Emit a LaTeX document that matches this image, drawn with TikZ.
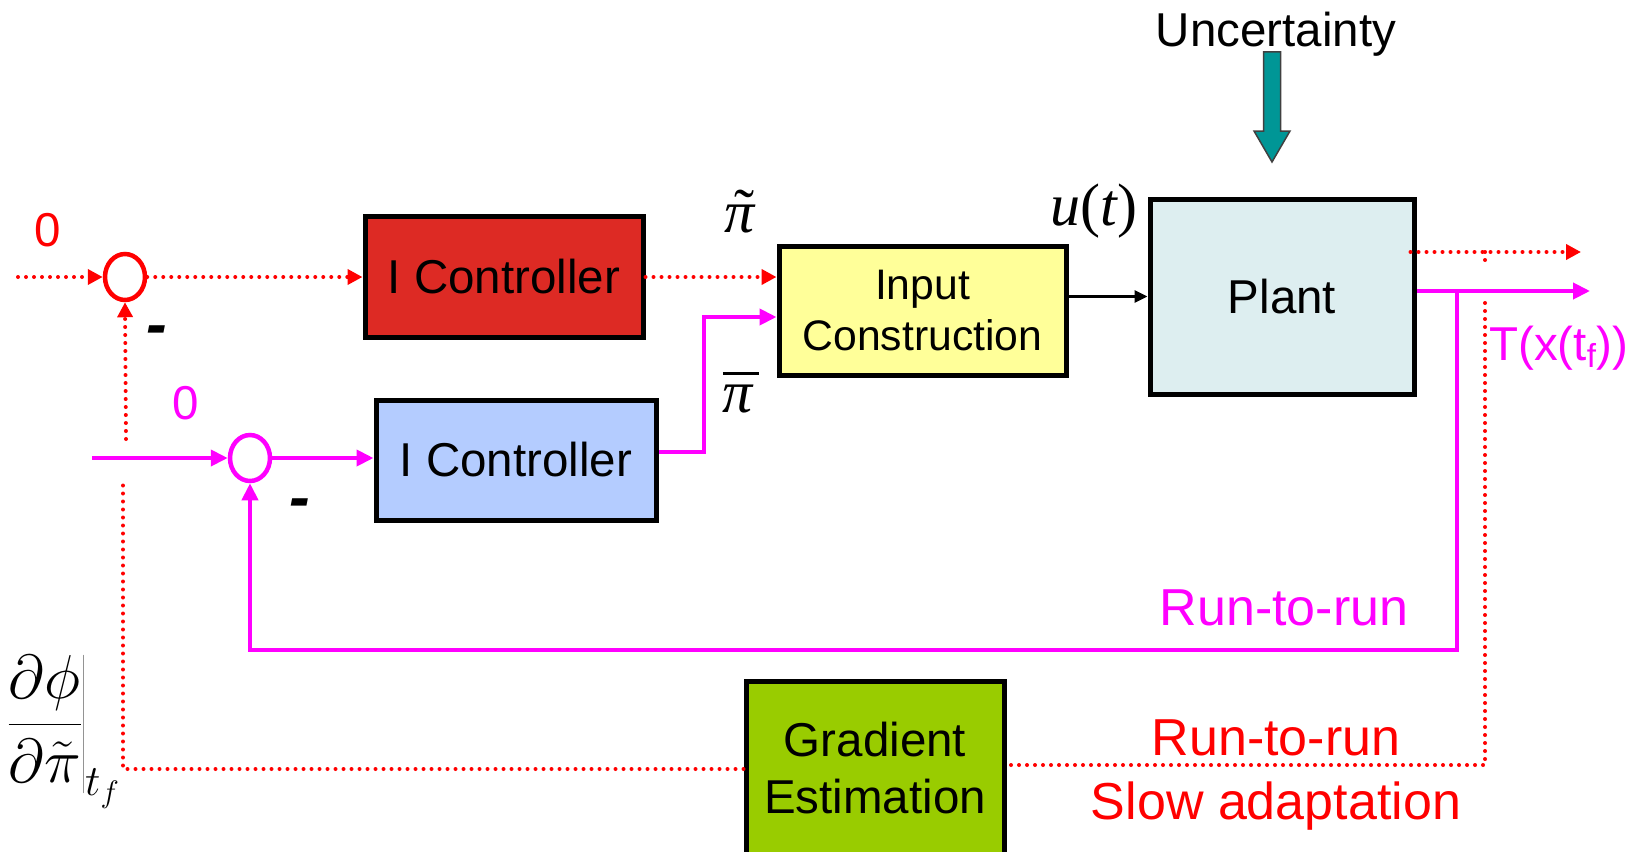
\RequirePackage{fix-cm}
\documentclass[tikz,border=0pt]{standalone}
\usepackage{fontspec}
\setmainfont{Liberation Sans}
\newfontfamily\tms{Liberation Serif}
\usetikzlibrary{arrows.meta,shapes.geometric,calc}

\definecolor{ctlred}{HTML}{DD2A24}
\definecolor{ctlblue}{HTML}{B4CCFF}
\definecolor{icyellow}{HTML}{FFFF99}
\definecolor{plantblue}{HTML}{DDEEF0}
\definecolor{gradgreen}{HTML}{99CC00}
\definecolor{uncteal}{HTML}{009696}
\definecolor{sigred}{HTML}{FF0000}
\definecolor{sigmag}{HTML}{FF00FF}

\newcommand\fsz[2]{\fontsize{#1}{#2}\selectfont}

\tikzset{
  blockbox/.style={draw=black, line width=5pt, inner sep=0pt, align=center,
                   font=\fsz{47.5}{57}},
  sumnode/.style={ellipse, line width=4.5pt, minimum width=40pt,
                  minimum height=46pt, inner sep=0pt},
  rdot/.style={sigred, line width=4pt, line cap=round,
               dash pattern=on 0pt off 8pt},
  rtip/.style={-{Triangle[length=15pt,width=15pt]}},
  mline/.style={sigmag, line width=4pt, line join=miter},
  mtip/.style={-{Triangle[length=17pt,width=16pt]}},
  lbl/.style={inner sep=0pt, font=\fsz{47.5}{57}},
  biglbl/.style={inner sep=0pt, font=\fsz{52}{62}},
  serlbl/.style={inner sep=0pt, font=\fsz{60}{68}\tms},
  signlbl/.style={inner sep=0pt, font=\fsz{62}{70}\bfseries\itshape},
}

\begin{document}
\begin{tikzpicture}[x=1pt,y=-1pt]
\useasboundingbox (0,0) rectangle (1640,851);

% blocks
\node[blockbox, fill=ctlred, minimum width=278pt, minimum height=121pt] (redctl) at (504,277) {I Controller};
\node[blockbox, fill=ctlblue, minimum width=280pt, minimum height=120pt] (bluectl) at (516,460) {I Controller};
\node[blockbox, fill=icyellow, minimum width=287pt, minimum height=129pt, font=\fsz{42.7}{51}] (inputc) at (922.5,310.5) {Input\\Construction};
\node[blockbox, fill=plantblue, minimum width=264pt, minimum height=195pt] (plant) at (1282,296.5) {Plant};
\node[blockbox, fill=gradgreen, minimum width=258pt, minimum height=174pt] (grad) at (875,768) {Gradient\\Estimation};

% summing junctions
\node[sumnode, draw=sigred] (rsum) at (125,277) {};
\node[sumnode, draw=sigmag] (msum) at (250,458) {};

% fast loop on the tilde input (red, dotted)
\coordinate (rin) at (18,277);
\draw[rdot, rtip] (rin) -- (rsum.west);
\draw[rdot, rtip] (rsum.east) -- (redctl.west);
\draw[rdot, rtip] (redctl.east) -- (redctl.east -| inputc.west);

% run-to-run loop on the bar input (magenta)
\coordinate (min) at (92,458);
\draw[mline, mtip] (min) -- (msum.west);
\draw[mline, mtip] (msum.east) -- (msum.east -| bluectl.west);
\draw[mline, mtip] ($(bluectl.east)+(0,-8)$) -- ++(45,0) |- ($(inputc.west)+(0,6.5)$);

% input to plant
\draw[line width=3pt, -{Triangle[length=13pt,width=12pt]}] (inputc.east |- plant.west) -- (plant.west);

% plant outputs
\coordinate (mout) at (1590,291);
\coordinate (mtap) at (1457,291);
\draw[mline, mtip] ($(plant.east)+(0,-5.5)$) -- (mout);
\draw[mline, mtip] (mtap) -- (1457,650) -| (msum.south);

\coordinate (rout) at (1581,252);
\coordinate (rtap) at (1485,252);
\coordinate (rret) at (1485,765);
\draw[rdot, rtip] ($(plant.east)+(-6,-44.5)$) -- (rout);
\draw[rdot] (rtap) -- (1485,262);
\draw[rdot] (1485,303) -- (rret) -- (rret -| grad.east);

% gradient feedback to the red junction
\coordinate (lcorner) at (123,769);
\draw[rdot] (grad.west |- lcorner) -- (lcorner) -- (123,483);
\draw[rdot, rtip] (126,439) -- (rsum.south);

% uncertainty
\node[lbl, anchor=base] (unc) at (1276,47) {Uncertainty};
\draw[fill=uncteal, draw=darkgray, line width=1.5pt, line join=miter]
  (1263.5,52) -- (1280.5,52) -- (1280.5,131) -- (1290,131) -- (1272,162)
  -- (1254,131) -- (1263.5,131) -- cycle;

% signal labels
\node[lbl, text=sigred] (zr) at (48,230) {0};
\node[lbl, text=sigmag] (zm) at (186,403) {0};
\node[signlbl] (minus1) at (157,336) {-};
\node[signlbl] (minus2) at (300,509) {-};
\node[serlbl, anchor=base] (pitilde) at (740,232)
  {\rlap{\hspace{0.16em}\raisebox{0.02em}{\char"02DC}}\itshape π};
\node[serlbl, anchor=base] (pibar) at (738,412)
  {\rlap{\rule[0.62em]{0.6em}{2.5pt}}\itshape π};
\node[serlbl, anchor=base] (ut) at (1094,225) {\textit{u}(\textit{t\/})};
\node[lbl, anchor=base west, text=sigmag] (tx) at (1489,360) {T(x(t\textsubscript{f}))};
\node[inner sep=0pt, anchor=base west, font=\fsz{62}{72}] (dphi) at (6,740)
  {$\left.\displaystyle\frac{\partial\phi}{\partial\tilde{\pi}}\right|_{t_f}$};

% loop captions
\node[biglbl, anchor=base, text=sigmag] (r2rm) at (1284,625) {Run-to-run};
\node[biglbl, anchor=base, text=sigred] (r2rr) at (1276,755) {Run-to-run};
\node[biglbl, anchor=base, text=sigred] (slow) at (1276,819) {Slow adaptation};
\end{tikzpicture}
\end{document}
